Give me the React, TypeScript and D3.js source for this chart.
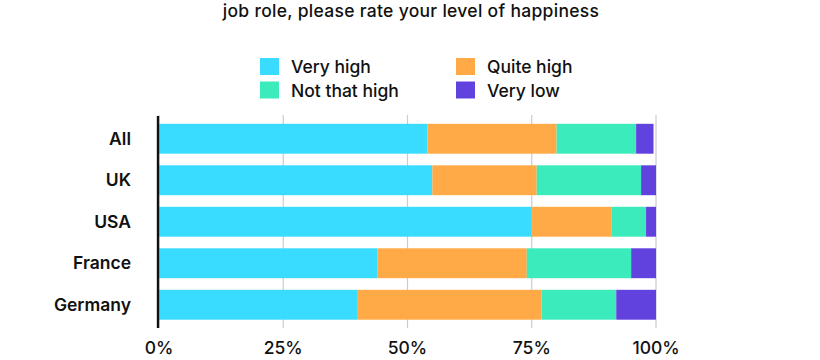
import React from "react";
import * as d3 from "d3";

const categories = ["All", "UK", "USA", "France", "Germany"];
const seriesNames = ["Very high", "Quite high", "Not that high", "Very low"];
const veryHigh = [54, 55, 75, 44, 40];
const quiteHigh = [26, 21, 16, 30, 37];
const notThatHigh = [16, 21, 7, 21, 15];
const veryLow = [3.5, 3, 2, 5, 8];
const xTicks = [0, 25, 50, 75, 100];
const titleText = "job role, please rate your level of happiness";

const colors = ["#39DCFF", "#FFAA46", "#3CEBBC", "#6242DF"];
const FONT = "Inter, 'Noto Sans', sans-serif";

export default function App() {
  const W = 820, H = 360;
  const x = d3.scaleLinear().domain([0, 100]).range([159, 656]);
  const y = d3.scaleBand().domain(categories).range([118, 325.5]).paddingInner(0.28).paddingOuter(0.14);
  const rows = categories.map((c, i) => ({
    cat: c,
    "Very high": veryHigh[i],
    "Quite high": quiteHigh[i],
    "Not that high": notThatHigh[i],
    "Very low": veryLow[i],
  }));
  const stacked = d3.stack<any>().keys(seriesNames)(rows);

  const legend = [
    { name: "Very high", color: colors[0], x: 260, y: 58 },
    { name: "Quite high", color: colors[1], x: 456, y: 58 },
    { name: "Not that high", color: colors[2], x: 260, y: 81.5 },
    { name: "Very low", color: colors[3], x: 456, y: 81.5 },
  ];

  return (
    <svg width={W} height={H} style={{ position: "absolute", left: 0, top: 0 }} fontFamily={FONT}>
      <rect width={W} height={H} fill="#fff" />
      <text x={411} y={17} textAnchor="middle" fontSize={17.5} fontWeight={500} fill="#111" letterSpacing={0.3}>
        {titleText}
      </text>
      {legend.map((l) => (
        <g key={l.name}>
          <rect x={l.x} y={l.y} width={19} height={17} fill={l.color} />
          <text x={l.x + 31} y={l.y + 15} fontSize={17.5} fontWeight={500} fill="#111">
            {l.name}
          </text>
        </g>
      ))}
      {xTicks.map((t) => (
        <line key={t} x1={x(t)} x2={x(t)} y1={115} y2={328} stroke="#cccccc" strokeWidth={1.2} />
      ))}
      {stacked.map((s, si) => (
        <g key={s.key} fill={colors[si]}>
          {s.map((d, i) => (
            <rect
              key={i}
              x={x(d[0])}
              y={y(categories[i])}
              width={x(d[1]) - x(d[0])}
              height={y.bandwidth()}
            />
          ))}
        </g>
      ))}
      <line x1={158} x2={158} y1={116} y2={328} stroke="#111" strokeWidth={2.4} />
      {categories.map((c) => (
        <text
          key={c}
          x={131}
          y={(y(c) as number) + y.bandwidth() / 2 + 6}
          textAnchor="end"
          fontSize={17.5}
          fontWeight={600}
          fill="#111"
        >
          {c}
        </text>
      ))}
      {xTicks.map((t) => (
        <text key={t} x={x(t)} y={354} textAnchor="middle" fontSize={17.5} fontWeight={500} fill="#111">
          {t}%
        </text>
      ))}
    </svg>
  );
}
